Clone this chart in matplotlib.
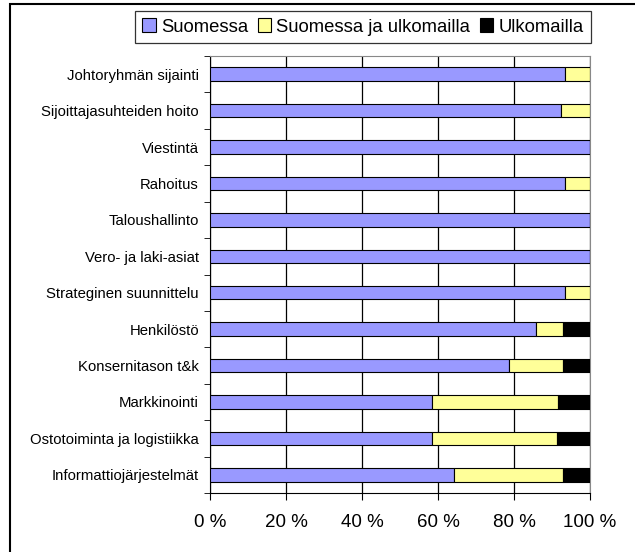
import matplotlib
matplotlib.use("Agg")
import matplotlib.pyplot as plt
import numpy as np
from matplotlib.patches import Rectangle

plt.rcParams["font.family"] = ["Liberation Sans", "DejaVu Sans"]

categories = [
    "Johtoryhmän sijainti",
    "Sijoittajasuhteiden hoito",
    "Viestintä",
    "Rahoitus",
    "Taloushallinto",
    "Vero- ja laki-asiat",
    "Strateginen suunnittelu",
    "Henkilöstö",
    "Konsernitason t&k",
    "Markkinointi",
    "Ostotoiminta ja logistiikka",
    "Informattiojärjestelmät",
]
suomessa = [93.3, 92.3, 100, 93.3, 100, 100, 93.3, 85.7, 78.6, 58.3, 58.3, 64.3]
molemmat = [6.7, 7.7, 0, 6.7, 0, 0, 6.7, 7.1, 14.3, 33.3, 33.0, 28.6]
ulkomailla = [0, 0, 0, 0, 0, 0, 0, 7.2, 7.1, 8.4, 8.7, 7.1]
series_names = ["Suomessa", "Suomessa ja ulkomailla", "Ulkomailla"]
colors = ["#9999FF", "#FFFF99", "#000000"]

W, H = 635, 552
fig = plt.figure(figsize=(W / 100, H / 100), dpi=100)
ax = fig.add_axes([210 / W, 1 - 493 / H, 380 / W, (493 - 56) / H])

# outer frame (right/bottom edges run off the image)
fig.patches.append(Rectangle((10 / W, -0.1), 1.2, 1 - 4 / H + 0.1, transform=fig.transFigure,
                             fill=False, edgecolor="black", linewidth=1.5))

y = np.arange(len(categories))
left = np.zeros(len(categories))
for vals, name, col in zip([suomessa, molemmat, ulkomailla], series_names, colors):
    vals = np.array(vals, dtype=float)
    ax.barh(y, vals, left=left, height=0.37, color=col, edgecolor="black",
            linewidth=0.8, label=name, zorder=3)
    left += vals

ax.set_xlim(0, 100)
ax.set_ylim(len(categories) - 0.5, -0.5)
ax.set_xticks([0, 20, 40, 60, 80, 100])
ax.set_xticklabels([f"{v} %" for v in [0, 20, 40, 60, 80, 100]], fontsize=13.5)
ax.set_yticks(y)
ax.set_yticklabels(categories, fontsize=10.7)
ax.tick_params(axis="y", length=0, pad=8)
ax.set_yticks(np.arange(-0.5, len(categories), 1), minor=True)
ax.tick_params(axis="y", which="minor", length=4, direction="out", color="black")
ax.tick_params(axis="x", length=5, direction="out", pad=10, color="black")
ax.grid(axis="x", color="black", linewidth=0.9, zorder=0)
for s in ["top", "right"]:
    ax.spines[s].set_color("#888888")
for s in ["left", "bottom"]:
    ax.spines[s].set_color("black")

handles, labels = ax.get_legend_handles_labels()
leg = fig.legend(handles, labels, loc="center", bbox_to_anchor=(363 / W, 1 - 27 / H),
                 ncol=3, fontsize=13.3, frameon=True, fancybox=False, edgecolor="black",
                 handlelength=0.72, handleheight=0.72, handletextpad=0.3, columnspacing=0.5,
                 borderpad=0.4, borderaxespad=0)
leg.get_frame().set_linewidth(0.9)

fig.savefig("out.png", dpi=100, facecolor="white")
